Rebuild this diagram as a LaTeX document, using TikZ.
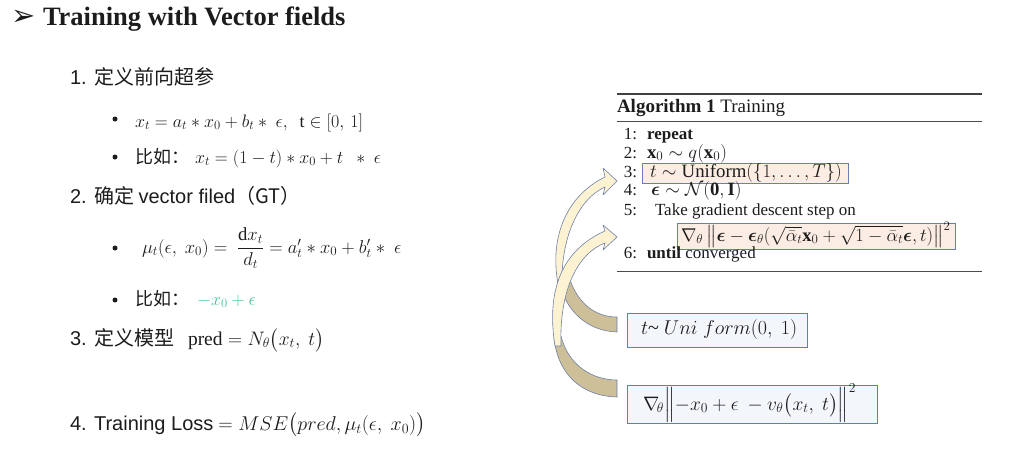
\RequirePackage{fix-cm}
\documentclass[tikz,border=0pt]{standalone}
\usepackage{amsmath,amssymb,bm}
\usepackage{fontspec}
\setmainfont{Liberation Serif}
\newfontfamily\hel{Liberation Sans}
\newfontfamily\cjk{Noto Sans CJK SC}
\newfontfamily\djv{DejaVu Sans}
\definecolor{peach}{HTML}{FCEDE4}
\definecolor{boxblue}{HTML}{6A7DB5}
\definecolor{lowblue}{HTML}{5A80B8}
\definecolor{lowfill}{HTML}{F3F6FB}
\definecolor{arrfront}{HTML}{FDF3D2}
\definecolor{arrback}{HTML}{CDBF98}
\definecolor{arrline}{HTML}{6F80A8}
\definecolor{greenf}{HTML}{3FC79E}
\definecolor{ink}{HTML}{1C1C1C}
\newcommand{\szHead}{\fontsize{26.5}{30}\selectfont}
\newcommand{\szLvA}{\fontsize{20}{24}\selectfont}
\newcommand{\szLvB}{\fontsize{18}{22}\selectfont}
\newcommand{\szMath}{\fontsize{18}{22}\selectfont}
\newcommand{\szMathB}{\fontsize{19.5}{23}\selectfont}
\newcommand{\szAlgH}{\fontsize{19}{22}\selectfont}
\newcommand{\szAlg}{\fontsize{17}{20}\selectfont}
\newcommand{\szAlgM}{\fontsize{18.8}{21}\selectfont}
\begin{document}
\begin{tikzpicture}[x=1pt,y=-1pt,
  txt/.style={anchor=base west, inner sep=0pt, outer sep=0pt, text=ink},
  num/.style={anchor=base east, inner sep=0pt, outer sep=0pt, text=ink, font=\szAlg},
  bul/.style={circle, fill=ink, minimum size=5pt, inner sep=0pt},
  hlbox/.style={draw=boxblue, fill=peach, line width=0.9pt, inner sep=0pt, anchor=north west},
  lobox/.style={draw=lowblue, fill=lowfill, line width=1pt, inner sep=0pt, anchor=north west},
  frontface/.style={fill=arrfront, draw=arrline, line width=0.6pt, line join=round},
  backface/.style={fill=arrback, draw=arrline, line width=0.6pt, line join=round},
  rulethick/.style={draw=black!75, line width=1.5pt},
  rulethin/.style={draw=black!70, line width=0.8pt}]
\fill[white] (0,0) rectangle (1033,455);
\useasboundingbox (0,0) rectangle (1033,455);

% heading
\node[txt] (harrow) at (12,25) {\djv\fontsize{29}{29}\selectfont ➢};
\node[txt] (head) at (43,25) {\szHead\bfseries Training with Vector fields};

% left list
\node[txt] (n1) at (70,84) {\szLvA{\hel 1. }{\cjk 定义前向超参}};
\node[bul] (bu1) at (115,119) {};
\node[txt] (f1) at (135,127) {\szMath $x_t = a_t \ast x_0 + b_t \ast\ \epsilon,\ \ \mathrm{t} \in [0,\,1]$};
\node[bul] (bu2) at (115,157) {};
\node[txt] (e1) at (135,163) {\szLvB\cjk 比如：};
\node[txt] (f2) at (195,163) {\szMath $x_t = (1-t)\ast x_0 + t\ \ \ast\ \epsilon$};
\node[txt] (n2) at (70,203) {\szLvA{\hel 2. }{\cjk 确定 }{\hel vector filed}{\cjk （GT）}};
\node[bul] (bu3) at (115,248) {};
\node[txt] (f3) at (142,253) {\fontsize{18.6}{22}\selectfont $\mu_t(\epsilon,\ x_0) =\ \dfrac{\mathrm{d}x_t}{d_t} = a_t' \ast x_0 + b_t' \ast\ \epsilon$};
\node[bul] (bu4) at (115,300) {};
\node[txt] (e2) at (135,305) {\szLvB\cjk 比如：};
\node[txt, text=greenf] (f4) at (197,305) {\szMath $-x_0 + \epsilon$};
\node[txt] (n3) at (70,345) {\szLvA{\hel 3. }{\cjk 定义模型}};
\node[txt] (f5) at (188,345) {\szMathB $\mathrm{pred} = N_\theta\bigl(x_t,\ t\bigr)$};
\node[txt] (n4) at (70,430) {\szLvA{\hel 4. Training Loss} \fontsize{20}{24}\selectfont$= MSE\bigl(pred,\mu_t(\epsilon,\ x_0)\bigr)$};

% algorithm block
\draw[rulethick] (617,94) -- (982,94);
\node[txt] (ahead) at (617,112) {\szAlgH\textbf{Algorithm 1} Training};
\draw[rulethin] (617,121) -- (982,121);
\node[num] (k1) at (637,139) {1:};
\node[txt] (l1) at (647,139) {\szAlg\textbf{repeat}};
\node[num] (k2) at (637,158) {2:};
\node[txt] (l2) at (647,158) {\szAlgM $\mathbf{x}_0 \sim q(\mathbf{x}_0)$};
\node[hlbox, minimum width=206pt, minimum height=20pt] (box3) at (642,163) {};
\node[num] (k3) at (637,177) {3:};
\node[txt] (l3) at (650,177) {\szAlgM $t \sim \mathrm{Uniform}(\{1,\dots,T\})$};
\node[num] (k4) at (637,195) {4:};
\node[txt] (l4) at (651,195) {\szAlgM $\bm{\epsilon} \sim \mathcal{N}(\mathbf{0},\mathbf{I})$};
\node[num] (k5) at (637,215) {5:};
\node[txt] (l5) at (655,215) {\szAlg Take gradient descent step on};
\node[hlbox, minimum width=278pt, minimum height=26pt] (box5) at (677,223) {};
\node[txt] (l5b) at (681,241) {\fontsize{18.5}{21}\selectfont $\nabla_\theta \left\| \bm{\epsilon} - \bm{\epsilon}_\theta(\sqrt{\bar\alpha_t}\mathbf{x}_0 + \sqrt{1-\bar\alpha_t}\bm{\epsilon}, t) \right\|^2$};
\node[num] (k6) at (637,258) {6:};
\node[txt] (l6) at (647,258) {\szAlg\textbf{until} converged};
\draw[rulethin] (617,271) -- (982,271);

% lower boxes
\node[lobox, minimum width=180pt, minimum height=34pt] (bx1) at (627,313) {};
\node[txt] (t1) at (641,334) {\fontsize{20}{24}\selectfont $t$\textasciitilde\ $Uni\;form(0,\ 1)$};
\node[lobox, minimum width=250pt, minimum height=38pt] (bx2) at (627,385) {};
\node[txt] (t2) at (643,410) {\szMathB $\nabla_{\!\theta}\Bigl\| -x_0 + \epsilon\ - v_\theta\bigl(x_t,\ t\bigr)\Bigr\|^2$};

% curved arrow 1 (box bx1 -> line 3)
\path[backface] (568,274) .. controls (576,302) and (594,317) .. (617,317)
   -- (617,332) .. controls (588,331) and (565,312) .. (558,278) -- cycle;
\path[frontface] (558,284) .. controls (549,235) and (568,195) .. (605,177)
   -- (603,168) -- (617,181) -- (603,195) -- (605,187)
   .. controls (580,198) and (561,235) .. (562,284) -- cycle;
% curved arrow 2 (box bx2 -> line 5)
\path[backface] (561,336) .. controls (568,365) and (592,380) .. (617,380)
   -- (617,397) .. controls (582,396) and (558,375) .. (554,338) -- cycle;
\path[frontface] (555,346) .. controls (546,290) and (562,250) .. (605,231)
   -- (603,225) -- (617,237) -- (603,250) -- (605,243)
   .. controls (578,253) and (559,290) .. (561,346) -- cycle;
\end{tikzpicture}
\end{document}
